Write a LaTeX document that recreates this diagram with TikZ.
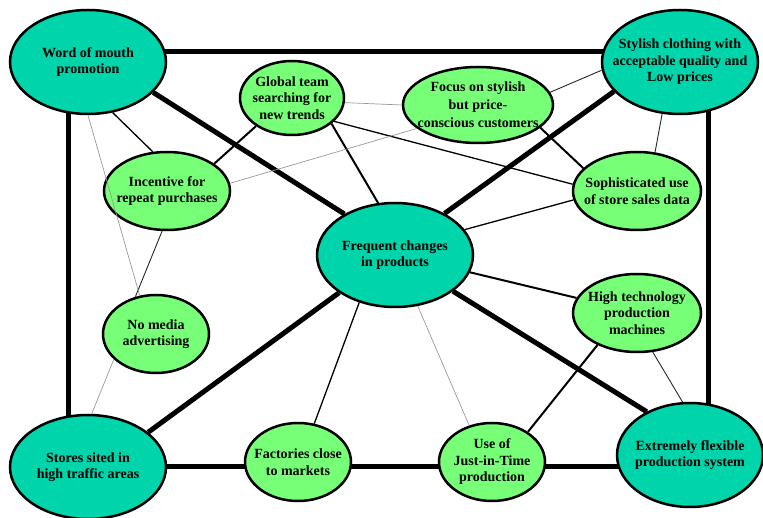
\documentclass[tikz,border=0pt]{standalone}
\usepackage{fontspec}
\setmainfont{Liberation Serif}
\usepackage{xcolor}
\definecolor{hubteal}{HTML}{00D4AA}
\definecolor{ideagreen}{HTML}{77FF77}
\usepackage{tikz}
\usetikzlibrary{
  shapes.geometric,
  calc
}

\begin{document}
\begin{tikzpicture}[
  x=1pt, y=-1pt,
  txt/.style={align=center, inner sep=0pt, font=\fontsize{14}{16.5}\selectfont\bfseries},
  hub/.style={ellipse, draw=black, fill=hubteal, line width=2.5pt, inner sep=0pt, minimum width=156pt, minimum height=104pt},
  idea/.style={ellipse, draw=black, fill=ideagreen, line width=2.5pt, inner sep=0pt, minimum width=126pt, minimum height=78pt},
  frame/.style={line width=5pt, black},
  spoke/.style={line width=5pt, black},
  link/.style={line width=2pt, black},
  thin/.style={line width=1.3pt, black},
  hair/.style={line width=0.9pt, black!85},
  faint/.style={line width=0.7pt, black!40},
]
\useasboundingbox (0,0) rectangle (763,518);

% Frame
\coordinate (ftl) at (68,52);
\coordinate (ftr) at (708,52);
\coordinate (fbr) at (708,466);
\coordinate (fbl) at (68,466);
\draw[frame] (ftl) -- (ftr) -- (fbr) -- (fbl) -- cycle;

% Main nodes
\node[hub, label={[txt]center:{Word of mouth\\promotion}}] (wom) at (88,62) {};
\node[hub, label={[txt]center:{Stylish clothing with\\acceptable quality and\\Low prices}}] (stylish) at (680,62) {};
\node[hub, label={[txt]center:{Frequent changes\\in products}}] (freq) at (395,255) {};
\node[hub, label={[txt]center:{Stores sited in\\high traffic areas}}] (stores) at (88,467) {};
\node[hub, minimum width=146pt, label={[txt]center:{Extremely flexible\\production system}}] (flexible) at (690,455) {};

% Supporting activities
\node[idea, minimum width=104pt, minimum height=74pt, label={[txt]center:{Global team\\searching for\\new trends}}] (global) at (292,98) {};
\node[idea, minimum width=150pt, minimum height=76pt, label={[txt, font=\fontsize{14}{18}\selectfont\bfseries]center:{Focus on stylish\\but price-\\conscious customers}}] (focus) at (478,105) {};
\node[idea, label={[txt]center:{Incentive for\\repeat purchases}}] (incentive) at (167,191) {};
\node[idea, minimum width=128pt, label={[txt]center:{Sophisticated use\\of store sales data}}] (soph) at (637,191) {};
\node[idea, minimum width=106pt, label={[txt]center:{No media\\advertising}}] (nomedia) at (156,334) {};
\node[idea, minimum width=128pt, label={[txt]center:{High technology\\production\\machines}}] (hightech) at (637,313) {};
\node[idea, minimum width=106pt, label={[txt]center:{Factories close\\to markets}}] (factories) at (298,462) {};
\node[idea, minimum width=106pt, label={[txt]center:{Use of\\Just-in-Time\\production}}] (jit) at (492,462) {};

% Thick spokes
\draw[spoke] (wom.335) -- (freq.141);
\draw[spoke] (stylish.204) -- (freq.40);
\draw[spoke] (stores.30) -- (freq.214);
\draw[spoke] (flexible.135) -- (freq.328);

% Links
\draw[link] (global.218) -- (incentive.30);
\draw[link] (global.327) -- (freq.108);
\draw[link] (focus.340) -- (soph.157);
\draw[link] (freq.347) -- (hightech.166);
\draw[link] (hightech.219) -- (jit.40);
\draw[thin] (wom.296) -- (incentive.110);
\draw[thin] (global.331) -- (soph.174);
\draw[thin] (freq.20) -- (soph.188);
\draw[thin] (freq.233) -- (factories.67);
\draw[hair] (focus.10) -- (stylish.186);
\draw[hair] (stylish.251) -- (soph.65);
\draw[hair] (hightech.292) -- (flexible.98);
\draw[hair] (incentive.263) -- (nomedia.119);

% Weak links
\draw[faint] (global.355) -- (focus.180);
\draw[faint] (incentive.7) -- (focus.201);
\draw[faint] (freq.294) -- (jit.122);
\draw[faint] (wom.270) -- (nomedia.113);
\draw[faint] (nomedia.211) -- (stores.86);

\end{tikzpicture}
\end{document}
